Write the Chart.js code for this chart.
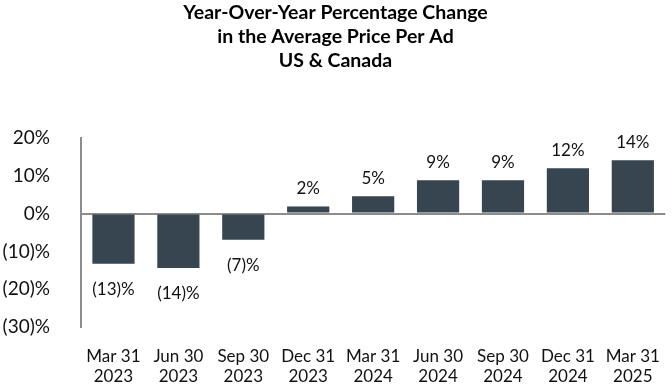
<!DOCTYPE html>
<html>
<head>
<meta charset="utf-8">
<script src="https://cdn.jsdelivr.net/npm/chart.js@4"></script>
<style>
  html, body { margin: 0; padding: 0; background: #fff; }
  #wrap { width: 672px; height: 384px; }
</style>
</head>
<body>
<div id="wrap"><canvas id="priceChart"></canvas></div>
<script>
// quarters, two-line labels
var quarters = [
  ["Mar 31", "2023"], ["Jun 30", "2023"], ["Sep 30", "2023"], ["Dec 31", "2023"],
  ["Mar 31", "2024"], ["Jun 30", "2024"], ["Sep 30", "2024"], ["Dec 31", "2024"],
  ["Mar 31", "2025"]
];
var pctChange = [-13.3, -14.4, -6.9, 1.9, 4.6, 8.8, 8.8, 12.0, 14.1];
var yTicks = [20, 10, 0, -10, -20, -30];
var titleLines = [
  "Year-Over-Year Percentage Change",
  "in the Average Price Per Ad",
  "US & Canada"
];

var FONT = "Lato, 'Open Sans', sans-serif";

function fmtPct(v) {
  var r = Math.round(v);
  return r < 0 ? "(" + Math.abs(r) + ")%" : r + "%";
}

// draws the value above / below each bar
var barLabels = {
  id: "barLabels",
  afterDatasetsDraw: function (chart) {
    var ctx = chart.ctx;
    var meta = chart.getDatasetMeta(0);
    ctx.save();
    ctx.font = "17px " + FONT;
    ctx.fillStyle = "#111";
    ctx.textAlign = "center";
    ctx.textBaseline = "alphabetic";
    meta.data.forEach(function (bar, i) {
      var v = pctChange[i];
      if (v >= 0) {
        ctx.fillText(fmtPct(v), bar.x, bar.y - 12);
      } else {
        ctx.fillText(fmtPct(v), bar.x, bar.y + 31);
      }
    });
    ctx.restore();
  }
};

new Chart("priceChart", {
  type: "bar",
  data: {
    labels: quarters,
    datasets: [{
      data: pctChange,
      backgroundColor: "#36454f",
      borderWidth: 0,
      barPercentage: 0.65,
      categoryPercentage: 1.0
    }]
  },
  plugins: [barLabels],
  options: {
    responsive: true,
    maintainAspectRatio: false,
    animation: false,
    layout: { padding: { left: 0, right: 1, top: 1, bottom: 0 } },
    plugins: {
      legend: { display: false },
      tooltip: { enabled: false },
      title: {
        display: true,
        text: titleLines,
        color: "#000",
        font: { family: FONT, size: 19.5, weight: "bold", lineHeight: 1.23 },
        padding: { top: 0, bottom: 65 }
      }
    },
    scales: {
      x: {
        afterFit: function (axis) { axis.height = 57; },
        grid: { display: false },
        border: { display: false },
        ticks: {
          color: "#111",
          font: { family: FONT, size: 17, lineHeight: 1.15 },
          padding: 12,
          maxRotation: 0
        }
      },
      y: {
        min: -30,
        max: 20,
        afterBuildTicks: function (axis) {
          axis.ticks = yTicks.map(function (v) { return { value: v }; });
        },
        afterFit: function (axis) { axis.width = 81; },
        border: { display: true, color: "#8c8c8c", width: 2 },
        grid: {
          drawTicks: false,
          lineWidth: 2,
          color: function (c) { return c.tick && c.tick.value === 0 ? "#8c8c8c" : "rgba(0,0,0,0)"; }
        },
        ticks: {
          color: "#111",
          font: { family: FONT, size: 19 },
          padding: 31,
          callback: function (v) { return fmtPct(v); }
        }
      }
    }
  }
});
</script>
</body>
</html>
